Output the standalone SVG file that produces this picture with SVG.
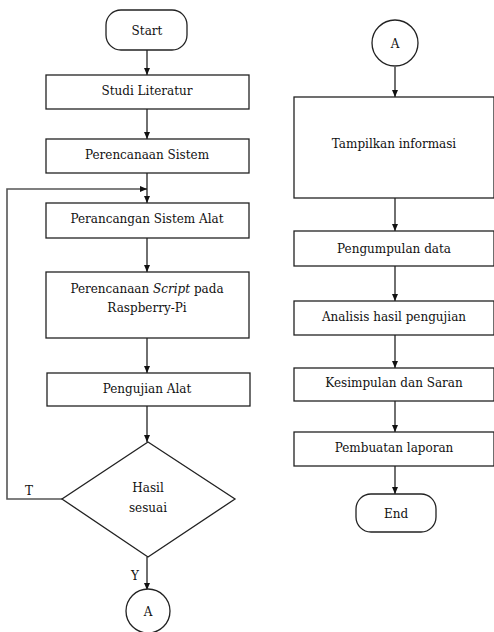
<svg xmlns="http://www.w3.org/2000/svg" width="494" height="632" viewBox="0 0 494 632">
<defs>
<marker id="ah" markerWidth="8" markerHeight="8" refX="7" refY="4" orient="auto" markerUnits="userSpaceOnUse">
<path d="M0,1 L7,4 L0,7 Z" fill="#111"/>
</marker>
<style>
.s{fill:#fff;stroke:#222;stroke-width:1.3}
.c{fill:none;stroke:#222;stroke-width:1.3;marker-end:url(#ah)}
.f{fill:none;stroke:#555;stroke-width:1.6}
text{font-family:'DejaVu Serif','Liberation Serif',serif;font-size:12px;fill:#111;text-anchor:middle}
</style>
</defs>
<rect width="494" height="632" fill="#fff"/>
<g id="connectors">
<line class="c" x1="147" y1="50" x2="147" y2="75"/>
<line class="c" x1="147" y1="109" x2="147" y2="139"/>
<line class="c" x1="147" y1="173" x2="147" y2="203"/>
<line class="c" x1="147" y1="238" x2="147" y2="272"/>
<line class="c" x1="147" y1="338" x2="147" y2="373"/>
<line class="c" x1="147" y1="406" x2="147" y2="442"/>
<line class="c" x1="147" y1="557" x2="147" y2="590"/>
<polyline class="f" points="62,499 7,499 7,189 140,189"/>
<line class="c" x1="140" y1="189" x2="147" y2="189"/>
<line class="c" x1="395" y1="67" x2="395" y2="97"/>
<line class="c" x1="395" y1="198" x2="395" y2="231"/>
<line class="c" x1="395" y1="266" x2="395" y2="301"/>
<line class="c" x1="395" y1="335" x2="395" y2="368"/>
<line class="c" x1="395" y1="401" x2="395" y2="432"/>
<line class="c" x1="395" y1="466" x2="395" y2="494"/>
<text x="29" y="495">T</text>
<text x="135" y="580">Y</text>
</g>
<g id="start"><rect class="s" x="106" y="10" width="81" height="40" rx="15"/><text x="147" y="35">Start</text></g>
<g id="studi"><rect class="s" x="46" y="75" width="203" height="34"/><text x="147" y="95">Studi Literatur</text></g>
<g id="perencanaan"><rect class="s" x="46" y="139" width="203" height="34"/><text x="147" y="159">Perencanaan Sistem</text></g>
<g id="perancangan"><rect class="s" x="46" y="203" width="203" height="35"/><text x="147" y="223">Perancangan Sistem Alat</text></g>
<g id="script"><rect class="s" x="46" y="272" width="203" height="66"/><text x="147" y="293">Perencanaan <tspan font-style="italic">Script</tspan> pada</text><text x="147" y="312">Raspberry-Pi</text></g>
<g id="pengujian"><rect class="s" x="47" y="373" width="203" height="33"/><text x="147" y="393">Pengujian Alat</text></g>
<g id="hasil"><polygon class="s" points="148,442 235,499 148,557 62,499"/><text x="148" y="492">Hasil</text><text x="148" y="512">sesuai</text></g>
<g id="connA1"><circle class="s" cx="148" cy="611" r="22"/><text x="148" y="616">A</text></g>
<g id="connA2"><circle class="s" cx="395" cy="43" r="23"/><text x="395" y="48">A</text></g>
<g id="tampilkan"><rect class="s" x="294" y="97" width="200" height="101"/><text x="394" y="148">Tampilkan informasi</text></g>
<g id="pengumpulan"><rect class="s" x="294" y="231" width="200" height="35"/><text x="394" y="253">Pengumpulan data</text></g>
<g id="analisis"><rect class="s" x="294" y="301" width="200" height="34"/><text x="394" y="321">Analisis hasil pengujian</text></g>
<g id="kesimpulan"><rect class="s" x="294" y="368" width="200" height="33"/><text x="394" y="387">Kesimpulan dan Saran</text></g>
<g id="pembuatan"><rect class="s" x="294" y="432" width="200" height="34"/><text x="394" y="452">Pembuatan laporan</text></g>
<g id="end"><rect class="s" x="356" y="494" width="80" height="38" rx="15"/><text x="396" y="518">End</text></g>
</svg>
